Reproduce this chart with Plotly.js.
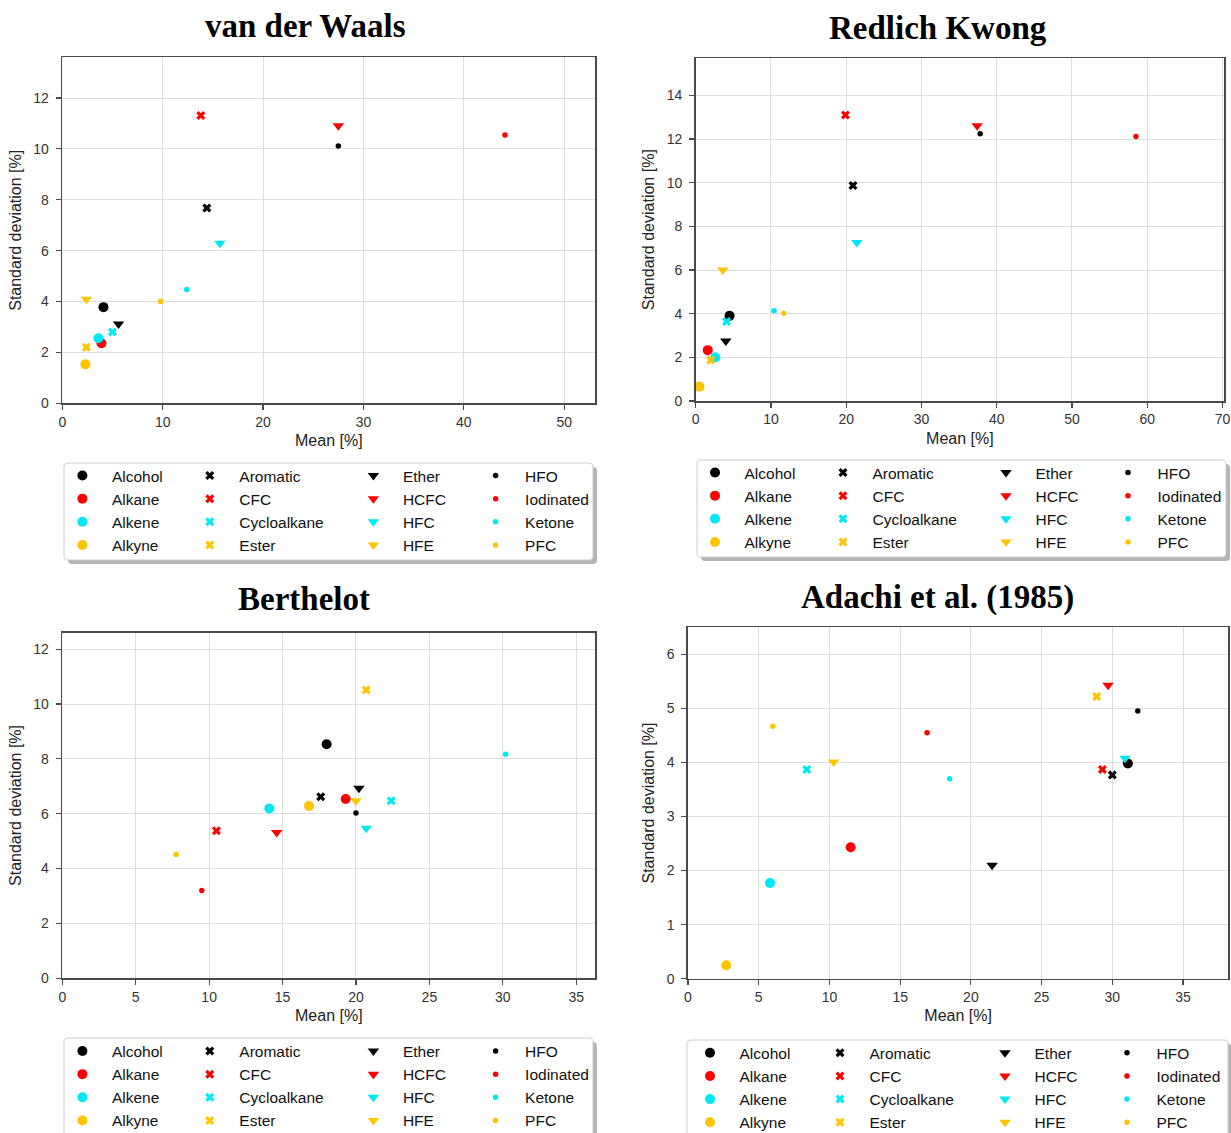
<!DOCTYPE html>
<html>
<head>
<meta charset="utf-8">
<script src="https://cdn.plot.ly/plotly-3.0.1.min.js"></script>
<style>
  html, body { margin: 0; padding: 0; background: #ffffff; }
  #chart { width: 1231px; height: 1133px; }
</style>
</head>
<body>
<div id="chart"></div>
<script>
// Refrigerant / compound families
const categories = ['Alcohol', 'Alkane', 'Alkene', 'Alkyne',
                    'Aromatic', 'CFC', 'Cycloalkane', 'Ester',
                    'Ether', 'HCFC', 'HFC', 'HFE',
                    'HFO', 'Iodinated', 'Ketone', 'PFC'];

// Equation-of-state deviations: mean and standard deviation, in %
const vdwMean = [4.1, 3.9, 3.6, 2.3, 14.4, 13.8, 5.0, 2.4, 5.6, 27.5, 15.7, 2.4, 27.5, 44.1, 12.4, 9.8];
const vdwStd  = [3.78, 2.36, 2.56, 1.53, 7.68, 11.31, 2.8, 2.2, 3.12, 10.91, 6.29, 4.09, 10.11, 10.55, 4.47, 4.0];

const rkMean = [4.5, 1.6, 2.6, 0.5, 20.9, 19.9, 4.1, 2.0, 4.0, 37.4, 21.4, 3.6, 37.8, 58.5, 10.4, 11.7];
const rkStd  = [3.9, 2.33, 2.0, 0.66, 9.87, 13.1, 3.64, 1.88, 2.75, 12.61, 7.26, 6.0, 12.24, 12.12, 4.14, 4.02];

const berMean = [18.0, 19.3, 14.1, 16.8, 17.6, 10.5, 22.4, 20.7, 20.2, 14.6, 20.7, 20.0, 20.0, 9.5, 30.2, 7.75];
const berStd  = [8.53, 6.54, 6.19, 6.28, 6.62, 5.38, 6.47, 10.51, 6.93, 5.32, 5.47, 6.47, 6.03, 3.2, 8.17, 4.51];

const adaMean = [31.1, 11.5, 5.8, 2.7, 30.0, 29.3, 8.4, 28.9, 21.5, 29.7, 30.9, 10.3, 31.8, 16.9, 18.5, 6.0];
const adaStd  = [3.98, 2.43, 1.77, 0.25, 3.77, 3.87, 3.87, 5.22, 2.1, 5.43, 4.08, 4.01, 4.95, 4.55, 3.7, 4.67];

const panelTitles = ['van der Waals', 'Redlich Kwong', 'Berthelot', 'Adachi et al. (1985)'];
const xTitle = 'Mean [%]';
const yTitle = 'Standard deviation [%]';

// ---- styling ----
const W = 1231, H = 1133;
const colors = ['#000000', '#ff0000', '#00e8f4', '#ffc400'];
const symbols = ['circle', 'x', 'triangle-down', 'circle'];
const sizes = [10, 8, 10, 5.5];

const panels = [
  { mean: vdwMean, std: vdwStd, xr: [0, 53.1], yr: [0, 13.6], dx: 10, dy: 2,
    box: [62.3, 57.3, 595.3, 403.3], title: [305, 26],
    leg: { sym: [82.4, 209.8, 373.4, 495.6], row: 475.5, frame: [64, 463, 593, 560] } },
  { mean: rkMean, std: rkStd, xr: [0, 70.2], yr: [0, 15.7], dx: 10, dy: 2,
    box: [695.7, 58.3, 1224, 401], title: [938, 28],
    leg: { sym: [715, 843, 1006, 1128], row: 472.5, frame: [697, 460, 1226, 557] } },
  { mean: berMean, std: berStd, xr: [0, 36.3], yr: [0, 12.6], dx: 5, dy: 2,
    box: [62.3, 632.7, 595.3, 978.3], title: [304, 599],
    leg: { sym: [82.4, 209.8, 373.4, 495.6], row: 1051, frame: [64, 1038, 593, 1145] } },
  { mean: adaMean, std: adaStd, xr: [0, 38.2], yr: [0, 6.5], dx: 5, dy: 1,
    box: [688, 627.3, 1228.3, 978.7], title: [938, 597],
    leg: { sym: [710, 840, 1005, 1127], row: 1052.8, frame: [687, 1040, 1228, 1145] } }
];

const fx = v => v / W;
const fy = v => 1 - v / H;
const sansFont = 'Arial, "Liberation Sans", Helvetica, sans-serif';
const serifFont = '"Liberation Serif", "Times New Roman", serif';

const ITEM_W = 49;                 // legend symbol column width
const SYM_OFF = ITEM_W / 2 + 5;    // symbol centre offset inside a legend
const LEG_FONT = 15.5;
const ITEM_H = LEG_FONT * 1.3 + 3;

function roundRectPath(x0, y0, x1, y1, r) {
  const X = v => fx(v).toFixed(5), Y = v => fy(v).toFixed(5);
  return `M${X(x0 + r)},${Y(y0)} L${X(x1 - r)},${Y(y0)} Q${X(x1)},${Y(y0)} ${X(x1)},${Y(y0 + r)} ` +
         `L${X(x1)},${Y(y1 - r)} Q${X(x1)},${Y(y1)} ${X(x1 - r)},${Y(y1)} ` +
         `L${X(x0 + r)},${Y(y1)} Q${X(x0)},${Y(y1)} ${X(x0)},${Y(y1 - r)} ` +
         `L${X(x0)},${Y(y0 + r)} Q${X(x0)},${Y(y0)} ${X(x0 + r)},${Y(y0)} Z`;
}

const traces = [];
const layout = {
  width: W, height: H,
  margin: { l: 0, r: 0, t: 0, b: 0, autoexpand: false },
  paper_bgcolor: '#ffffff', plot_bgcolor: '#ffffff',
  showlegend: true,
  font: { family: sansFont, color: '#222' },
  annotations: [], shapes: []
};

let legendCount = 0;
panels.forEach((p, pi) => {
  const n = pi === 0 ? '' : String(pi + 1);
  const xa = 'x' + n, ya = 'y' + n;
  const [bx0, by0, bx1, by1] = p.box;

  const axCommon = {
    showline: true, mirror: true, linecolor: '#4a4a4a', linewidth: 1.6,
    ticks: 'outside', ticklen: 5, tickwidth: 1.2, tickcolor: '#4a4a4a',
    showgrid: true, gridcolor: '#dedede', gridwidth: 1, zeroline: false,
    tickfont: { size: 14, color: '#333', family: sansFont },
    automargin: false
  };
  layout['xaxis' + n] = Object.assign({}, axCommon, {
    domain: [fx(bx0), fx(bx1)], anchor: ya, range: p.xr, dtick: p.dx, tick0: 0,
    title: { text: xTitle, font: { size: 16, color: '#222', family: sansFont }, standoff: 6 }
  });
  layout['yaxis' + n] = Object.assign({}, axCommon, {
    domain: [fy(by1), fy(by0)], anchor: xa, range: p.yr, dtick: p.dy, tick0: 0,
    ticklabelstandoff: 4,
    title: { text: yTitle, font: { size: 16, color: '#222', family: sansFont }, standoff: 8 }
  });

  layout.annotations.push({
    xref: 'paper', yref: 'paper', x: fx(p.title[0]), y: fy(p.title[1]),
    xanchor: 'center', yanchor: 'middle', showarrow: false,
    text: '<b>' + panelTitles[pi] + '</b>',
    font: { family: serifFont, size: 33, color: '#000' }
  });

  // legend frame with drop shadow
  const [lx0, ly0, lx1, ly1] = p.leg.frame;
  layout.shapes.push({
    type: 'path', xref: 'paper', yref: 'paper', layer: 'above',
    path: roundRectPath(lx0 + 4, ly0 + 4, lx1 + 4, ly1 + 4, 4),
    fillcolor: 'rgba(120,120,120,0.55)', line: { width: 0 }
  });
  layout.shapes.push({
    type: 'path', xref: 'paper', yref: 'paper', layer: 'above',
    path: roundRectPath(lx0, ly0, lx1, ly1, 4),
    fillcolor: '#ffffff', line: { color: '#cccccc', width: 1 }
  });

  // one legend per column of four families
  for (let c = 0; c < 4; c++) {
    legendCount += 1;
    const lid = legendCount === 1 ? 'legend' : 'legend' + legendCount;
    layout[lid] = {
      orientation: 'v', xref: 'paper', yref: 'paper',
      x: fx(p.leg.sym[c] - SYM_OFF), y: fy(p.leg.row - 5 - ITEM_H / 2),
      xanchor: 'left', yanchor: 'top',
      bgcolor: 'rgba(0,0,0,0)', borderwidth: 0,
      itemwidth: ITEM_W, traceorder: 'normal', tracegroupgap: 0,
      font: { family: sansFont, size: LEG_FONT, color: '#111' }
    };
    for (let r = 0; r < 4; r++) {
      const k = c * 4 + r;
      traces.push({
        type: 'scatter', mode: 'markers',
        name: categories[k],
        x: [p.mean[k]], y: [p.std[k]],
        xaxis: xa, yaxis: ya,
        legend: lid, showlegend: true,
        marker: { symbol: symbols[c], size: sizes[c], color: colors[r], line: { width: 0 } },
        hovertemplate: categories[k] + '<br>Mean: %{x}<br>SD: %{y}<extra></extra>'
      });
    }
  }
});

Plotly.newPlot('chart', traces, layout, { displayModeBar: false, staticPlot: true });
</script>
</body>
</html>
